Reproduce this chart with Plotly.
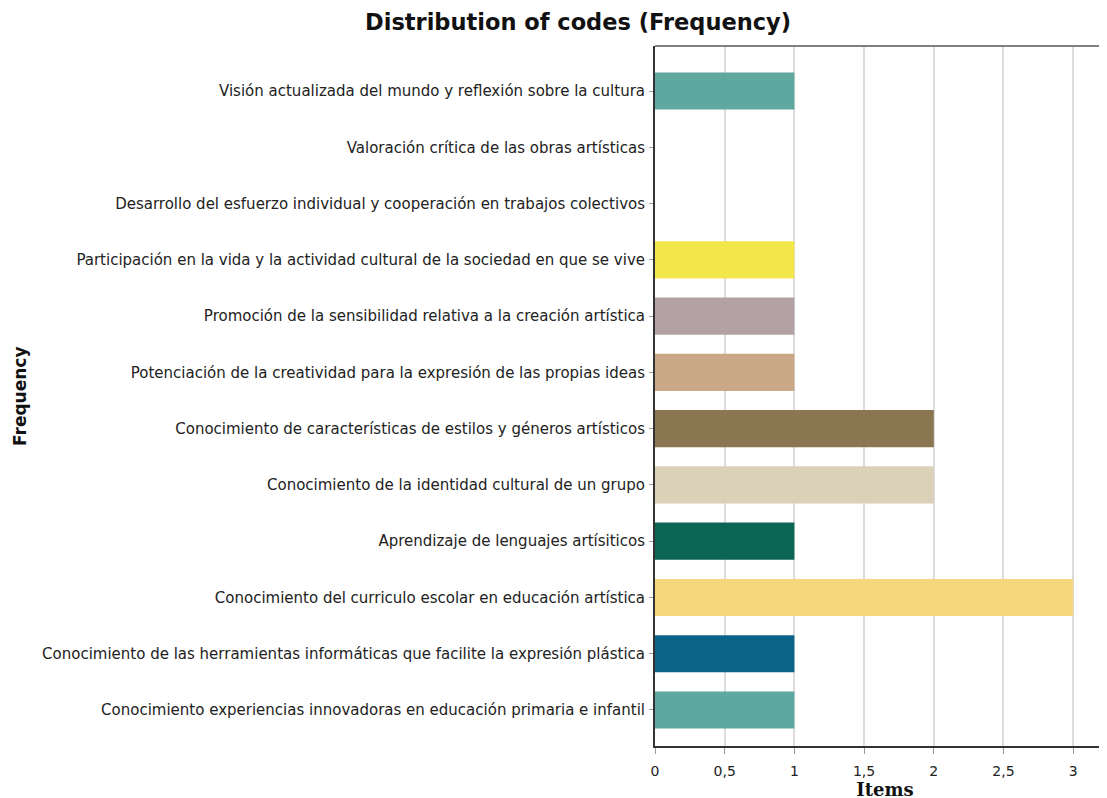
import plotly.graph_objects as go

categories = [
    "Visión actualizada del mundo y reflexión sobre la cultura",
    "Valoración crítica de las obras artísticas",
    "Desarrollo del esfuerzo individual y cooperación en trabajos colectivos",
    "Participación en la vida y la actividad cultural de la sociedad en que se vive",
    "Promoción de la sensibilidad relativa a la creación artística",
    "Potenciación de la creatividad para la expresión de las propias ideas",
    "Conocimiento de características de estilos y géneros artísticos",
    "Conocimiento de la identidad cultural de un grupo",
    "Aprendizaje de lenguajes artísiticos",
    "Conocimiento del curriculo escolar en educación artística",
    "Conocimiento de las herramientas informáticas que facilite la expresión plástica",
    "Conocimiento experiencias innovadoras en educación primaria e infantil",
]
values = [1, 0, 0, 1, 1, 1, 2, 2, 1, 3, 1, 1]
colors = ["#5fa8a0", "#5fa8a0", "#5fa8a0", "#f3e64a", "#b3a2a5", "#c8a887",
          "#8b7652", "#dbd0b8", "#0b6555", "#f6d77d", "#0b6488", "#5fa8a0"]
x_ticks = [0, 0.5, 1, 1.5, 2, 2.5, 3]

# plot bottom-to-top so first category is at the top
cats_r = categories[::-1]
vals_r = values[::-1]
cols_r = colors[::-1]

fig = go.Figure(go.Bar(
    y=cats_r, x=vals_r, orientation="h",
    marker=dict(color=cols_r, line=dict(width=0)),
    width=0.66,
))

L = 647
fig.update_layout(
    width=1107, height=798,
    margin=dict(l=L, r=0, t=38, b=60),
    paper_bgcolor="white", plot_bgcolor="white",
    separators=",.",
    showlegend=False,
    font=dict(family="DejaVu Sans", size=13, color="#222"),
    title=dict(text="<b>Distribution of codes (Frequency)</b>",
               x=570/1107, xanchor="center", y=1 - 14/798, yanchor="middle",
               font=dict(family="DejaVu Sans", size=22.5, color="#111")),
    xaxis=dict(range=[0, 3.30], tickvals=x_ticks, showgrid=True,
               gridcolor="#dcdcdc", gridwidth=2, zeroline=False,
               showline=True, linecolor="#333", linewidth=2,
               ticks="outside", ticklen=6, tickcolor="#999", tickwidth=1,
               ticklabelstandoff=5,
               tickfont=dict(family="DejaVu Sans", size=14, color="#222"),
               title=dict(text="<b>Items</b>", standoff=0,
                          font=dict(family="DejaVu Serif", size=18, color="#111"))),
    yaxis=dict(range=[-0.64, 11.8], showgrid=False, zeroline=False,
               showline=True, linecolor="#333", linewidth=2,
               ticks="outside", ticklen=4, tickcolor="#999", tickwidth=1,
               ticklabelstandoff=1,
               tickfont=dict(family="DejaVu Sans", size=15, color="#222")),
    shapes=[dict(type="line", xref="paper", yref="paper", x0=0, x1=1, y0=1, y1=1,
                 line=dict(color="#808080", width=2))],
    annotations=[dict(text="<b>Frequency</b>", xref="paper", yref="paper",
                      x=(12 - L) / (1107 - L), y=0.5, textangle=-90, showarrow=False,
                      xanchor="center", yanchor="middle",
                      font=dict(family="DejaVu Sans", size=17, color="#111"))],
)

fig.write_html("out.html")
